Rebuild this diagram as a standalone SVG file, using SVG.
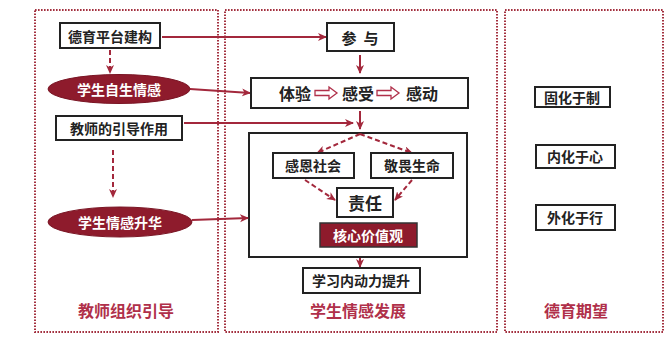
<svg xmlns="http://www.w3.org/2000/svg" width="666" height="338" viewBox="0 0 666 338">
<style>
.panel{fill:none;stroke:#a3303f;stroke-width:2;stroke-dasharray:1.6 1.4}
.box{fill:#fff;stroke:#222;stroke-width:2}
.frame{fill:none;stroke:#222;stroke-width:2}
.t{font-family:"Noto Sans CJK SC","Noto Sans",sans-serif;font-weight:bold;font-size:14px;fill:#222;text-anchor:middle;dominant-baseline:central}
.w{fill:#fff}
.lbl{font-family:"Noto Sans CJK SC","Noto Sans",sans-serif;font-weight:bold;font-size:16px;fill:#b0304a;text-anchor:middle}
.ell{fill:#8e1b2c;stroke:#7a1524;stroke-width:1}
.ln{fill:none;stroke:#a3283c;stroke-width:2;marker-end:url(#ah)}
.dl{fill:none;stroke:#a3283c;stroke-width:2;stroke-dasharray:5 3;marker-end:url(#ah)}
.ha{fill:#fff;stroke:#b0304a;stroke-width:1.3}
</style>
<defs>
<marker id="ah" markerWidth="10" markerHeight="10" refX="8" refY="4" orient="auto" markerUnits="userSpaceOnUse">
<path d="M0,0 L9,4 L0,8 L2.5,4 z" fill="#a3283c"/>
</marker>
</defs>
<rect width="666" height="338" fill="#fff"/>
<g id="panels">
<rect class="panel" x="35" y="10" width="183" height="322"/>
<rect class="panel" x="225" y="10" width="272" height="322"/>
<rect class="panel" x="505" y="10" width="158" height="322"/>
</g>
<g id="n-big">
<rect class="frame" x="249" y="133" width="218" height="124"/>
</g>
<g id="connectors">
<line class="dl" x1="110" y1="50" x2="110" y2="73"/>
<line class="dl" x1="113" y1="150" x2="113" y2="197"/>
<line class="ln" x1="162" y1="37" x2="326" y2="37"/>
<line class="ln" x1="190" y1="89" x2="250" y2="93"/>
<line class="ln" x1="184" y1="123" x2="353" y2="123"/>
<line class="ln" x1="192" y1="220" x2="248" y2="218"/>
<line class="ln" x1="360" y1="55" x2="360" y2="73"/>
<line class="ln" x1="360" y1="111" x2="360" y2="129"/>
<line class="dl" x1="360" y1="134" x2="317" y2="153"/>
<line class="dl" x1="360" y1="134" x2="412" y2="153"/>
<line class="dl" x1="305" y1="180" x2="335" y2="200"/>
<line class="dl" x1="412" y1="180" x2="395" y2="200"/>
<line class="ln" x1="360" y1="258" x2="360" y2="267"/>
</g>
<g id="n-deyu">
<rect class="box" x="60" y="23" width="100" height="25"/>
<text class="t" x="110" y="36">德育平台建构</text>
</g>
<g id="n-zisheng">
<ellipse class="ell" cx="119" cy="89" rx="71" ry="14.5"/>
<text class="t w" x="119" y="89">学生自生情感</text>
</g>
<g id="n-yindao">
<rect class="box" x="56" y="116" width="126" height="24"/>
<text class="t" x="119" y="128">教师的引导作用</text>
</g>
<g id="n-shenghua">
<ellipse class="ell" cx="120" cy="222" rx="72" ry="15"/>
<text class="t w" x="120" y="222">学生情感升华</text>
</g>
<g id="lbl-left"><text class="lbl" x="126" y="317">教师组织引导</text></g>
<g id="n-canyu">
<rect class="box" x="327" y="23" width="67" height="28"/>
<text class="t" x="360" y="37" style="font-size:15px;white-space:pre">参  与</text>
</g>
<g id="n-tiyan">
<rect class="box" x="251" y="78" width="217" height="30"/>
<text class="t" x="295" y="93" style="font-size:16px">体验</text>
<path class="ha" d="M315,90.5 H329 V87 L337,93 L329,99 V95.5 H315 Z"/>
<text class="t" x="358" y="93" style="font-size:16px">感受</text>
<path class="ha" d="M377,90.5 H391 V87 L399,93 L391,99 V95.5 H377 Z"/>
<text class="t" x="422" y="93" style="font-size:16px">感动</text>
</g>
<g id="n-ganen">
<rect class="box" x="273" y="153" width="81" height="25"/>
<text class="t" x="313" y="165">感恩社会</text>
</g>
<g id="n-jingwei">
<rect class="box" x="371" y="153" width="82" height="25"/>
<text class="t" x="412" y="165">敬畏生命</text>
</g>
<g id="n-zeren">
<rect class="box" x="337" y="188" width="56" height="29"/>
<text class="t" x="365" y="202" style="font-size:17px">责任</text>
</g>
<g id="n-hexin">
<rect x="320" y="223" width="97" height="24" fill="#8e1b2c" stroke="#333" stroke-width="1.5"/>
<text class="t w" x="368" y="235">核心价值观</text>
</g>
<g id="n-xuexi">
<rect class="box" x="303" y="268" width="117" height="25"/>
<text class="t" x="361" y="280">学习内动力提升</text>
</g>
<g id="lbl-mid"><text class="lbl" x="358" y="317">学生情感发展</text></g>
<g id="n-guhua">
<rect class="box" x="535" y="87" width="75" height="20"/>
<text class="t" x="572" y="97">固化于制</text>
</g>
<g id="n-neihua">
<rect class="box" x="536" y="145" width="79" height="23"/>
<text class="t" x="575" y="156">内化于心</text>
</g>
<g id="n-waihua">
<rect class="box" x="536" y="205" width="79" height="25"/>
<text class="t" x="575" y="217">外化于行</text>
</g>
<g id="lbl-right"><text class="lbl" x="576" y="317">德育期望</text></g>
</svg>
